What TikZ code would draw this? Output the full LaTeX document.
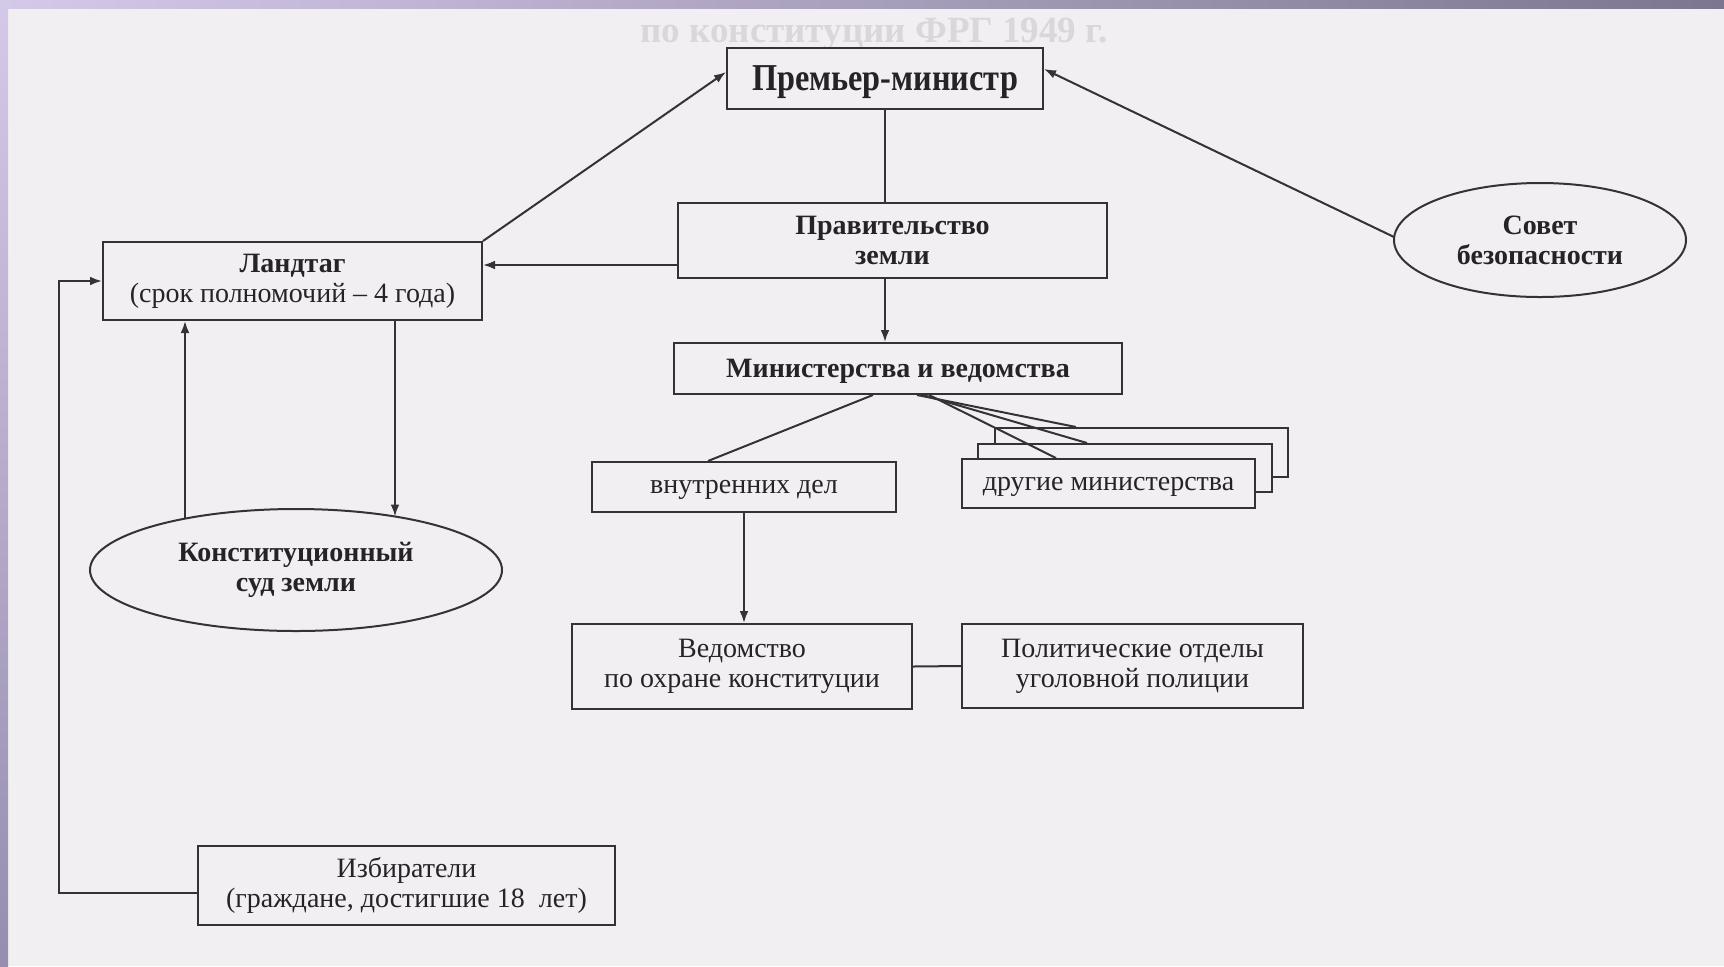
\documentclass[tikz,border=0pt]{standalone}
\usepackage{fontspec}
\setmainfont{Liberation Serif}
\newfontfamily\pmfont{Liberation Serif}[FakeStretch=0.85]
\usetikzlibrary{arrows.meta,calc,shapes.geometric}
\definecolor{bg}{HTML}{F1EFF1}
\definecolor{ink}{HTML}{353235}
\definecolor{txt}{HTML}{262326}
\definecolor{ghost}{HTML}{DAD6DA}
\definecolor{frameA}{HTML}{D4C9E9}
\definecolor{frameB}{HTML}{7D7690}
\definecolor{frameC}{HTML}{978DAE}
\begin{document}
\begin{tikzpicture}[x=0.5pt,y=-0.5pt,
  box/.style={draw=ink, line width=1pt, fill=bg, text=txt, align=center, inner sep=0pt},
  ell/.style={ellipse, draw=ink, line width=1pt, fill=bg, text=txt, align=center, inner sep=0pt},
  con/.style={draw=ink, line width=1pt},
  arr/.style={con, -{Latex[length=6pt,width=4.4pt]}},
  bf/.style={font=\bfseries\fontsize{14}{15}\selectfont},
  rm/.style={font=\fontsize{14}{15}\selectfont},
  oneline/.style={text depth=0pt}]
\useasboundingbox (0,0) rectangle (1724,966);
\fill[bg] (0,0) rectangle (1724,966);
\shade[left color=frameA, right color=frameB] (0,0) rectangle (1724,8);
\shade[top color=frameA, bottom color=frameC] (0,0) rectangle (8,966);

\node[text=ghost, font=\bfseries\fontsize{18.5}{19}\selectfont] (title) at (874,34) {по конституции ФРГ 1949 г.};

% nodes
\node[box, oneline, minimum width=158pt, minimum height=30.5pt, font=\pmfont\bfseries\fontsize{19}{20}\selectfont] (pm) at (885,78.5) {Премьер-министр};
\node[box, bf, minimum width=214.5pt, minimum height=37.5pt] (gov) at (892.5,240.5) {Правительство\\земли};
\node[box, bf, oneline, minimum width=224pt, minimum height=25.5pt] (min) at (898,368.5) {Министерства и ведомства};
\node[box, rm, minimum width=189.5pt, minimum height=39pt] (land) at (292.5,281) {\textbf{Ландтаг}\\(срок полномочий – 4 года)};
\node[ell, bf, minimum width=146pt, minimum height=57pt] (sov) at (1540,240) {Совет\\безопасности};
\node[ell, bf, minimum width=206pt, minimum height=61pt] (ks) at (296,570) {Конституционный\\суд земли};
\node[box, rm, oneline, minimum width=152pt, minimum height=25pt] (vd) at (744,487) {внутренних дел};
\node[box, minimum width=146.5pt, minimum height=24.5pt] (dr3) at (1141.5,452.5) {};
\node[box, minimum width=147pt, minimum height=24pt] (dr2) at (1125,468) {};
\node[box, rm, oneline, minimum width=146.5pt, minimum height=24.5pt] (dr1) at (1108.5,483.5) {другие министерства};
\node[box, rm, minimum width=170pt, minimum height=42.5pt] (ved) at (742,666.5) {Ведомство\\по охране конституции};
\node[box, rm, minimum width=170.5pt, minimum height=42pt] (pol) at (1132.5,666) {Политические отделы\\уголовной полиции};
\node[box, rm, minimum width=208.5pt, minimum height=39.5pt] (izb) at (406.5,885.5) {Избиратели\\(граждане, достигшие 18~ лет)};

% connectors
\draw[arr] (land.north east) -- ($(pm.west)+(0,-6.5)$);
\draw[arr] ($(sov.west)+(1,-3)$) -- ($(pm.east)+(0,-9.5)$);
\draw[con] (pm.south) -- (pm.south |- gov.north);
\draw[arr] (gov.south -| pm.south) -- (min.north -| pm.south);
\coordinate (g1) at ($(gov.west)+(0,24.5)$);
\draw[arr] (g1) -- (land.east |- g1);
\coordinate (a1) at ($(ks.center)+(-111,-51.4)$);
\coordinate (a2) at ($(ks.center)+(99,-53.5)$);
\draw[arr] (a1) -- (land.south -| a1);
\draw[arr] (land.south -| a2) -- (a2);
\coordinate (lc) at (59,893);
\draw[arr] ($(izb.west)+(0,7.5)$) -- (lc) |- (land.west);
\draw[con] ($(min.south)+(-25,0)$) -- ($(vd.north)+(-36,0)$);
\draw[con] ($(min.south)+(19,0)$) -- ($(dr3.north west)+(82,0)$);
\draw[con] ($(min.south)+(25,0)$) -- ($(dr2.north west)+(110,0)$);
\draw[con] ($(min.south)+(31,0)$) -- ($(dr1.north west)+(95,0)$);
\draw[arr] (vd.south) -- (vd.south |- ved.north);
\draw[con] (ved.east) -- (pol.west);
\end{tikzpicture}
\end{document}
